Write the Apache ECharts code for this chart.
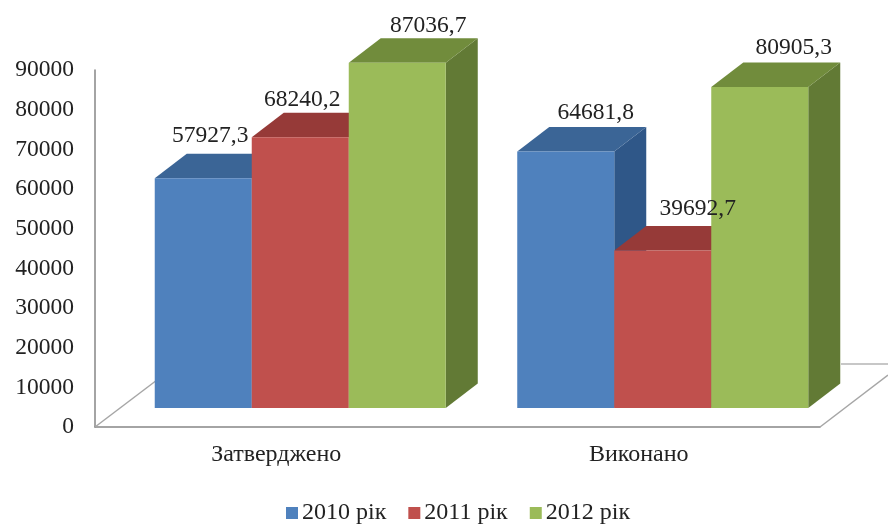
<!DOCTYPE html>
<html>
<head>
<meta charset="utf-8">
<style>
  html, body { margin: 0; padding: 0; background: #fff; }
  #chart { width: 888px; height: 524px; }
</style>
</head>
<body>
<div id="chart"></div>
<script src="https://cdn.jsdelivr.net/npm/echarts@6/dist/echarts.min.js"></script>
<script>
var categories = ['Затверджено', 'Виконано'];
var seriesNames = ['2010 рік', '2011 рік', '2012 рік'];
var values2010 = [57927.3, 64681.8];
var values2011 = [68240.2, 39692.7];
var values2012 = [87036.7, 80905.3];
var yTicks = [0, 10000, 20000, 30000, 40000, 50000, 60000, 70000, 80000, 90000];

var fontName = '"Liberation Serif", serif';
var frontColors = ['#4f81bd', '#c0504d', '#9bbb59'];
var topColors = ['#3b6596', '#963a38', '#718c3c'];
var sideColors = ['#2f5788', '#7f2f2d', '#627a35'];

// 3d look, in pixels
var depthX = 32, depthY = 24.5, liftY = 19, shiftX = 24, barShare = 0.2676;
// where each value label sits relative to its bar's top, by series then category
var labelNudge = [
  [[7, -42], [30, -39]],
  [[2, -37], [35, -42]],
  [[31, -37], [34, -39]]
];

var chart = echarts.init(document.getElementById('chart'));

function poly(points, color) {
  return { type: 'polygon', shape: { points: points }, style: { fill: color } };
}

function renderBar(params, api) {
  var s = params.seriesIndex - 1;
  var cat = api.value(0);
  var val = api.value(1);
  var w = api.size([1, 0])[0] * barShare;
  var top = api.coord([cat, val]);
  var base = api.coord([cat, 0]);
  var x0 = top[0] + shiftX + (s - 1.5) * w;
  var x1 = x0 + w;
  var y0 = top[1] - liftY;
  var y1 = base[1] - liftY;
  var nudge = labelNudge[s][cat];

  return {
    type: 'group',
    children: [
      poly([[x1, y0], [x1 + depthX, y0 - depthY], [x1 + depthX, y1 - depthY], [x1, y1]], sideColors[s]),
      poly([[x0, y0], [x0 + depthX, y0 - depthY], [x1 + depthX, y0 - depthY], [x1, y0]], topColors[s]),
      poly([[x0, y0], [x1, y0], [x1, y1], [x0, y1]], frontColors[s]),
      {
        type: 'text',
        z2: 50,
        style: {
          x: (x0 + x1) / 2 + nudge[0],
          y: y0 + nudge[1],
          text: String(val).replace('.', ','),
          font: '23.5px ' + fontName,
          fill: '#222',
          align: 'center',
          verticalAlign: 'middle'
        }
      }
    ]
  };
}

// floor of the 3d box
function renderFloor(params) {
  var g = params.coordSys;
  var bottom = g.y + g.height;
  var right = g.x + g.width;
  var line = function (a, b, c, d, color) {
    return { type: 'line', shape: { x1: a, y1: b, x2: c, y2: d }, style: { stroke: color, lineWidth: 1.5 } };
  };
  return {
    type: 'group',
    children: [
      line(g.x, bottom, g.x + 62, bottom - 47, '#a6a6a6'),
      line(right, bottom, right + 68, bottom - 52, '#a6a6a6'),
      line(right + 21, bottom - 63, right + 68, bottom - 63, '#b5b5b5')
    ]
  };
}

function barSeries(name, values) {
  return {
    name: name,
    type: 'custom',
    renderItem: renderBar,
    clip: false,
    encode: { x: 0, y: 1 },
    itemStyle: { color: frontColors[seriesNames.indexOf(name)] },
    data: values.map(function (v, i) { return [i, v]; })
  };
}

chart.setOption({
  animation: false,
  backgroundColor: '#fff',
  grid: { left: 95, right: 68, top: 70, bottom: 97 },
  legend: {
    data: seriesNames,
    left: 281,
    top: 496,
    icon: 'rect',
    itemWidth: 12,
    itemHeight: 12,
    itemGap: 22,
    textStyle: { fontFamily: fontName, fontSize: 24, color: '#222', padding: [8, 0, 0, -1] }
  },
  xAxis: {
    type: 'category',
    data: categories,
    axisTick: { show: false },
    axisLine: { lineStyle: { color: '#868686', width: 1.5 } },
    axisLabel: { fontFamily: fontName, fontSize: 24, color: '#222', margin: 16 }
  },
  yAxis: {
    type: 'value',
    min: yTicks[0],
    max: yTicks[yTicks.length - 1],
    interval: yTicks[1] - yTicks[0],
    splitLine: { show: false },
    axisTick: { show: false },
    axisLine: { show: true, lineStyle: { color: '#868686', width: 1.5 } },
    axisLabel: {
      fontFamily: fontName,
      fontSize: 23.5,
      color: '#222',
      margin: 21,
      formatter: function (v) { return String(v); }
    }
  },
  series: [
    {
      name: 'floor',
      type: 'custom',
      renderItem: renderFloor,
      clip: false,
      silent: true,
      data: [[0, 0]]
    },
    barSeries(seriesNames[0], values2010),
    barSeries(seriesNames[1], values2011),
    barSeries(seriesNames[2], values2012)
  ]
});
</script>
</body>
</html>
